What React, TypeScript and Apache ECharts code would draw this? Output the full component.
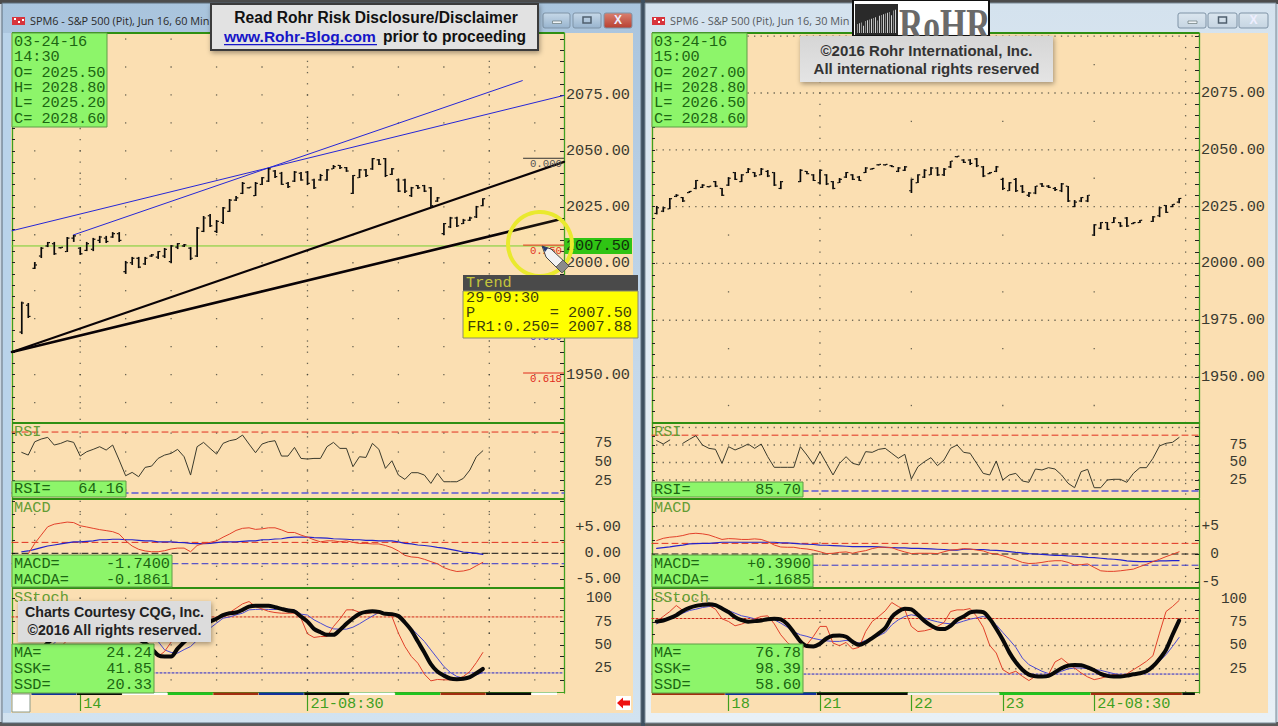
import React, { useEffect, useRef } from "react";
import * as echarts from "echarts";

// ---------- left window (60 min), bars start at slot 1 ----------
const leftHigh = [1982.6,1982,2000.3,2007,2009.3,2009.3,2007,2011.5,2012.4,2007,2009.3,2011.1,2012,2012,2013.7,2013.7,2000.8,2002.6,2002.6,2002.6,2003.9,2005.2,2006.6,2007.9,2008.8,2008.4,2007,2016,2020.9,2021.8,2019.1,2024.9,2028.5,2029.8,2036.1,2033.9,2036.1,2038.3,2042.4,2041.5,2040.6,2036.1,2041,2040.6,2041,2037.5,2039.7,2041.9,2043.7,2043.7,2042.8,2039.2,2041.9,2041.9,2046.8,2046.4,2046.8,2042.4,2037.5,2037.5,2033.9,2034.8,2034.8,2033.9,2029.4,2017.8,2020.5,2020.5,2019.6,2020.5,2025.4,2028.8];
const leftLow = [1968.1,1975.3,1997.2,2002.1,2007,2003.5,2006.6,2004.8,2009.3,2003.5,2005.2,2005.2,2008.8,2008.8,2011.1,2009.3,1995,1999,1997.6,1999,2002.6,2001.7,2002.1,1999.9,2006.1,2007,2001.2,2002.6,2013.7,2016,2013.3,2017.3,2022.7,2027.6,2030.7,2033.4,2029.8,2034.8,2036.1,2037.9,2034.8,2033.4,2036.1,2036.6,2034.8,2033,2036.6,2036.6,2041.9,2041.9,2040.6,2030.7,2037.9,2038.3,2041.5,2043.7,2038.3,2039.2,2031.6,2031.2,2029.4,2033,2031.6,2024.9,2027.2,2012.4,2015.5,2016,2017.3,2018.7,2020,2025.2];
const leftOpen = [1969,1981,1997.5,2003,2007.5,2008.5,2006.7,2005,2011,2006.5,2005.5,2006,2010,2011,2011.5,2013,1996,2000,2002,1999.5,2003,2002.5,2003,2000.5,2007,2007.5,2006.5,2003,2014,2021,2014,2018,2023,2028,2031,2033.5,2030,2035,2036.5,2041,2040,2035.5,2036.5,2040,2040.5,2037,2037,2037,2042,2043.5,2042.5,2031,2038,2041.5,2042,2046,2046.5,2039.5,2037,2037,2030,2034.5,2034.5,2033.5,2027.5,2013,2016,2020,2017.5,2019,2020.5,2025.5];
const leftClose = [1982,1976,1999,2006.5,2009,2004,2006.9,2011,2012,2004,2008.5,2010.5,2011.5,2009.5,2013,2010,2000,2002,1998,2002,2003.5,2005,2006,2007.5,2008.5,2008,2002,2015.5,2020,2016.5,2018.5,2024.5,2028,2029,2035.5,2033.8,2035.5,2038,2042,2038.5,2035,2034,2040.5,2037,2035.5,2033.5,2039,2041.5,2043,2042.5,2041,2039,2041.5,2039,2046.5,2044,2039,2042,2032,2032,2033.5,2033.5,2032,2025.5,2029,2017.5,2020,2016.5,2019,2020,2025,2028.6];
const leftRSI = [62,58.5,76,79.6,81.8,71.7,73.9,77.4,75.2,57.2,62.9,66,69.5,65.1,71.7,52,31.3,35.7,30,42.3,44,54.1,58.5,60.7,66,56.3,32.2,69.5,75.2,67.3,59.8,73.9,77.4,79.1,84.8,73,61.6,73,76,77.4,57.2,57.2,68.6,54.1,53.3,54.1,54.1,69.5,75.2,67.3,67.3,43.2,56.3,55.4,73.9,66,41,51,32.2,26.5,35.3,35.3,32.2,21.2,34.4,23.4,23.4,23.4,27.8,38.8,56.3,64.16];
const leftMACD = [null,-0.1,1.9,3.5,5.1,5.6,5.8,6,5.9,5.3,5.06,4.8,4.55,4.36,4.16,3.7,2.4,1.4,0.77,0.45,0.3,0.3,0.5,0.83,1,1,0.3,1.5,1.9,2.1,2.4,3.1,3.7,4.4,4.8,4.9,4.6,4.7,4.9,4.9,4.5,4,4,3.5,3.1,2.6,2.2,2.4,2.4,2.2,2.4,2.1,1.9,1.9,1.8,1.8,1.5,1.1,0.45,-0.4,-0.7,-0.8,-1.15,-1.6,-2,-2.76,-3.2,-3.5,-3.4,-3.1,-2.4,-1.74];
const leftMACDA = [0.3,0.45,0.77,1.1,1.4,1.6,1.8,2,2.2,2.2,2.3,2.4,2.6,2.6,2.7,2.7,2.6,2.6,2.5,2.4,2.4,2.2,2.2,2.2,2.1,2.05,1.9,1.85,1.85,1.9,2.05,2.2,2.2,2.2,2.3,2.4,2.4,2.6,2.6,2.75,2.8,3,3.1,3.1,3.1,3,2.95,2.9,2.8,2.75,2.7,2.6,2.6,2.5,2.5,2.4,2.4,2.4,2.2,1.9,1.8,1.6,1.5,1.35,1.15,1,0.77,0.5,0.25,0.13,0,-0.19];
const leftMA = [null,45,44,46,52,58,63,68,72,74,76,75,72,70,68,65,60,58,56,52,46,39,37.6,37.6,46,53,60,66,71,75,78,82,84,84.7,87.5,91,92,92,92,90.4,88.6,86.9,85.8,80.5,75,67.2,63.6,60.8,60.8,66.1,72.6,78.6,83.3,85.4,86.1,85.4,83.3,83,81,74,65.6,53.6,41.9,29.4,21.5,17.2,14,13.3,13.7,15.5,19.6,24.24];
const leftSSK = [null,35,36,38,42,45,48,55,62,72,80,84,85,82,80,76,68,60,55,50,42,37.6,43,53,62,65,68,70,72,76,76.9,82,84.7,89.3,94,96.5,91,88.6,86,84.7,84,84,84,78.6,61.9,58,59,59,69.7,77.9,87.6,87.6,85,83.3,84.7,84,83,80.5,62.6,48.3,37.6,30.4,18.7,11.5,13,12.6,12.6,13,16.2,21.5,31,41.85];
const leftSSD = [null,null,null,null,45,52,58,62,66,69,72,74,76,77,77,75,72,68,64,60,57,53.7,44.7,42,41.2,45,48.3,55,62,68,73.3,78.6,80,82.2,84,87.6,88,88.3,88,88,89.3,88.3,87.6,83,82,76.9,73.3,69.7,67.2,66.9,66.9,69,72.6,76.9,81,84.7,84,82.2,81,75.1,68,60.8,53.7,44.7,35.8,26.9,20.5,16.2,14.4,15.5,18,20.33];
const leftStart = 1;

// trend lines of the left window: [slot, price]
const blueTrendA = [[-0.5, 2014.3], [84.5, 2074.8]];
const blueTrendB = [[8.94, 2012.4], [78.08, 2081.4]];
const blackTrendA = [[-0.5, 1960.1], [84.5, 2045.1]];
const blackTrendB = [[-0.5, 1960.1], [83.9, 2019.4]];
const priceCursor = [[-0.5, 2007.5], [84.5, 2007.5]];
const fibLabels = ["0.000", "0.250", "0.500", "0.618"];
const fibValues = [2046.7, 2007.88, 1969.06, 1950.7];
const fibColors = ["#333333", "#e02a1a", "#3a3ad0", "#e02a1a"];

// ---------- right window (30 min), bars start at slot 0 ----------
const rightHigh = [2025.3,2024.8,2028.8,2030.5,2029.2,2031.9,2036.7,2034.9,2034.1,2036.3,2033.2,2038,2040.2,2039.3,2042,2040.2,2042,2041.1,2040.2,2036.3,null,null,2041.5,2040.7,2039.3,2041.5,2039.3,2036.3,2037.6,2040.2,2039.3,2038.5,2042.4,2042,2043.7,2043.7,2043.3,2042.4,2042.9,2037.1,2039.3,2041.5,2042.4,2042.4,2042,2045.1,2047.3,2045.9,2045.9,2046.4,2042.9,2040.2,2042.9,2037.6,2035.8,2037.6,2034.5,2031.4,2034.1,2035.4,2034.5,2033.6,2035.4,2034.1,2027.9,2029.2,2030.1,2017.3,2018.2,2018.2,2020.4,2018.2,2020.4,2018.2,2019.1,null,2020.9,2024.8,2025.7,2026.1,2028.8];
const rightLow = [2021.6,2022.6,2023.9,2029.2,2027,2031,2032.7,2033.2,2033.6,2033.6,2029.7,2034.1,2036.7,2035.8,2039.8,2038,2038.9,2038,2034.1,2032.7,null,null,2035.8,2039.3,2036.3,2034.9,2034.5,2032.7,2035.4,2037.6,2036.7,2036.3,2039.8,2041.3,2043.3,2043.3,2042.4,2040.2,2040.7,2031,2035.4,2037.6,2038.9,2038.5,2038.5,2042,2046.8,2044.2,2043.3,2042.4,2038,2039.3,2040.2,2032.3,2031.9,2031.4,2031,2029.2,2030.5,2033.6,2033.2,2031.9,2031.4,2027,2024.8,2027,2027,2012.1,2015.1,2014.7,2017.8,2016,2016,2017.3,2017.8,null,2018.2,2020.4,2022.2,2024.8,2026.5];
const rightOpen = [2022,2023,2024,2029.5,2029,2031.2,2033,2033.5,2033.8,2036,2033,2034.5,2040,2036,2040,2040,2039,2040.5,2040,2033,null,null,2036,2040.5,2039,2035.5,2039,2036,2035.5,2038,2039,2038,2040,2041.5,2043.4,2043.4,2043,2040.5,2041,2032,2035.5,2038,2039,2042,2039,2042.5,2047,2045.5,2045.5,2046,2042.5,2039.5,2040.5,2037,2032,2037,2034,2030,2031,2035,2034,2033,2032,2034,2025,2027.5,2027.5,2012.5,2015.5,2018,2018,2018,2020,2017.5,2018,null,2018.5,2021,2025.5,2025,2027];
const rightClose = [2024.5,2024.5,2028.5,2030,2027.5,2031.7,2036.5,2034.5,2034,2034,2030,2037.5,2037,2039,2041.5,2038.5,2041.5,2038.5,2034.5,2036,null,null,2041,2039.5,2036.5,2041,2035,2033,2037,2040,2037,2036.5,2042,2041.8,2043.6,2043.6,2042.6,2042,2042.5,2037,2039,2041,2042,2039,2041.5,2045,2047.2,2044.5,2044,2043,2038.5,2040,2042.5,2033,2035.5,2032,2031.5,2031,2034,2034,2033.5,2032.5,2035,2027.5,2027,2029,2030,2017,2018,2015,2020,2016.5,2016.5,2018,2019,null,2020.5,2024.5,2022.5,2026,2028.6];
const rightRSI = [81.2,76.4,82.1,null,77.4,83,88.3,75,70.2,68.8,48.8,72.6,67.9,71.7,76.4,70.2,76.4,58.3,43.1,43.1,43.1,43.1,72.6,60.7,47.4,65.5,48.8,32.2,48.8,58.3,48.8,46.4,65.5,64.5,68.8,70.2,63.1,56,61.7,26.4,44,51.2,56.9,45.5,53.6,70.2,75,64.5,63.1,48.8,34.5,32.2,52.2,25,32.2,34.5,23.6,21.7,40.7,39.3,42.6,40.7,32.2,20.3,14,36.9,40.2,14,14,25,26,26,21.7,34.5,42.6,42.6,56,73.6,77.4,78.8,85.7];
const rightMACD = [2.4,2.8,3,3.1,3.3,3.6,3.7,3.6,3.4,3,2.6,2.75,2.7,2.6,2.6,2.7,2.6,2.2,1.6,1.25,1.2,1.2,1,0.9,0.7,0.4,0.07,0.13,0.3,0.37,0.13,0.4,0.6,0.96,1.2,1.2,1.14,0.7,0.37,0.07,0.13,0.13,0.13,0.07,0.4,0.7,0.8,0.96,0.9,0.7,0.55,0.13,0,-0.3,-0.7,-1.06,-1.5,-1.7,-1.65,-1.5,-1.3,-1.2,-1.2,-1.5,-1.95,-1.9,-1.77,-2.4,-3,-3.1,-3.1,-3,-2.85,-2.7,-2.25,-1.84,-1.36,-0.94,-0.47,-0.05,0.39];
const rightMACDA = [1,1.15,1.26,1.44,1.6,1.8,1.85,1.9,1.9,2,2.1,2.1,2.1,2.1,2.1,2.1,2.1,2.1,2.1,2,2,1.9,1.8,1.74,1.7,1.6,1.56,1.5,1.44,1.38,1.32,1.32,1.32,1.32,1.26,1.2,1.14,1.1,1.1,1,1,0.96,0.9,0.85,0.8,0.7,0.7,0.85,0.85,0.8,0.8,0.7,0.66,0.55,0.43,0.3,0.2,0.07,0,-0.05,-0.17,-0.23,-0.23,-0.35,-0.4,-0.47,-0.6,-0.65,-0.76,-0.88,-0.94,-1.06,-1.24,-1.3,-1.36,-1.36,-1.3,-1.24,-1.24,-1.18,-1.1685];
const rightMA = [75.8,76.9,79.4,82.6,87.2,90.5,92.6,93.7,94.4,93.3,89.7,85.8,80.5,77.3,75.5,76.2,76.9,78.3,78.7,78,73,64,54.4,49.4,49,51.9,57.6,60.5,60.8,59.4,54,50.8,53.3,58,63,68.7,80.5,86.5,89.4,88.7,83,76.5,71.5,68,67.6,71.2,77.6,81.2,85.5,86.5,85.8,78.7,68,56.2,42.6,31.9,24,18.7,16.9,16.6,17.3,21.2,25.5,28.3,29,28.7,26.5,23.3,19.4,17.3,16.6,16.6,17.6,19,20.1,22.3,27.6,35.5,45.5,61.5,76.78];
const rightSSK = [75.8,81.2,86.5,93,87.6,90,92.6,93,93,89,78.7,75.8,71.2,73,75.8,78.7,81.2,81.9,73.3,61.5,53.3,47.3,45.5,50.8,59.8,70.5,70.5,52.6,49.8,53.3,46.2,48,65,75.8,81.2,87.2,96.2,91.9,88.3,70.5,65,65.8,67.6,70.5,74.7,86.5,88.3,88.3,89.7,81.2,69.7,50.1,41.9,24,19.8,22.3,16.9,12.3,16.9,16.9,18.7,32.3,36.2,30.5,25.8,20.5,16.2,13.3,14.8,16.9,18.7,17.6,19.4,24,28.3,33,39,63.3,86.5,91.9,98.39];
const rightSSD = [73.3,77.6,79.7,81.9,84.7,87.6,89,90.8,91.9,92.6,90,87.6,84.7,81.9,80.5,78.7,77.6,77.6,77.6,74,69.7,64.7,61.5,59.8,57.6,56.2,55,54.4,54.4,55.5,54.4,52.6,55.5,58,60.5,64,72.2,77.6,81.2,83,81.5,79.4,77.2,75.5,74,73.3,74,76.2,78.3,79.7,81.2,78.7,72.2,64,56.2,48,36.5,29.4,25.8,22.3,19.8,19.8,22.3,24.8,25.8,25.8,25.1,24,23.3,21.5,19.8,18,17.6,18.3,19.4,21.5,25.8,33,40.1,49,58.6];

// axis ticks and reference levels
const leftPriceLabels = [2075, 2050, 2025, 2000, 1950];
const rightPriceLabels = [2075, 2050, 2025, 2000, 1975, 1950];
const oscLabels = [75, 50, 25];
const stochLabels = [100, 75, 50, 25];
const macdLabels = [5, 0, -5];
const leftDayTicks = [10, 45];
const leftDayNames = ["14", "21-08:30"];
const rightDayTicks = [11, 25, 39, 53, 67];
const rightDayNames = ["18", "21", "22", "23", "24-08:30"];
const leftStripEdges = [2.5,9.5,16.5,23.5,30.5,37.5,44.5,51.5,58.5,65.5,72.5,79.5,83.5];
const leftStripColors = ["#12309c","#0a0a0a","#ffffff","#1fc41f","#a22c10","#12309c","#0a0a0a","#ffffff","#1fc41f","#a22c10","#0a0a0a","#ffffff"];
const rightStripEdges = [-0.72,10.5,24.5,38.5,52.5,66.5,80.5,82.5];
const rightStripColors = ["#a22c10","#12309c","#0a0a0a","#f4f4f4","#1fc41f","#a22c10","#0a0a0a"];

const MONO = '"Liberation Mono"';
const SANS = '"Liberation Sans"';
const GREEN = "#3f9f1f";
const range = (a: number, b: number, s: number) => {
  const r: number[] = [];
  for (let v = a; v <= b + 1e-6; v += s) r.push(v);
  return r;
};
const cross = (xs: number[], ys: number[]) => xs.flatMap((x) => ys.map((y) => [x, y]));
const pts = (vals: (number | null)[], start = 0) => vals.map((v, i) => [i + start, v]);

function buildOption() {
  const grid: any[] = [], xAxis: any[] = [], yAxis: any[] = [], series: any[] = [];

  function panel(cfg: any) {
    const g = grid.length;
    grid.push({ left: cfg.x, top: cfg.top, width: cfg.w, height: cfg.bottom - cfg.top, show: false });
    xAxis.push({
      gridIndex: g, type: "value", min: cfg.xMin, max: cfg.xMax, position: "bottom",
      splitLine: { show: false }, axisLine: { show: false, onZero: false },
      axisTick: cfg.days ? { show: true, customValues: cfg.days, length: 18, lineStyle: { color: GREEN, width: 1.2 } } : { show: false },
      axisLabel: cfg.days ? {
        show: true, customValues: cfg.days, margin: 3, align: "left", padding: [0, 0, 0, 3],
        fontFamily: MONO, fontSize: 15.25, color: GREEN,
        formatter: (v: number) => cfg.dayNames[cfg.days.indexOf(v)] ?? "",
      } : { show: false },
    });
    const yIdx = yAxis.length;
    yAxis.push({
      gridIndex: g, type: "value", min: cfg.yMin, max: cfg.yMax, position: "right",
      splitLine: { show: false },
      axisLine: { show: true, onZero: false, lineStyle: { color: GREEN, width: 1.3 } },
      axisTick: { show: true, inside: true, length: 4, customValues: cfg.ticks, lineStyle: { color: "#222", width: 1 } },
      axisLabel: {
        show: true, customValues: cfg.labels, align: "right", margin: cfg.labelX - cfg.x - cfg.w,
        fontFamily: MONO, fontSize: cfg.labelSize ?? 15.25, color: "#3a3a30",
        formatter: cfg.fmt,
      },
    });
    yAxis.push({
      gridIndex: g, type: "value", min: cfg.yMin, max: cfg.yMax, position: "left",
      splitLine: { show: false },
      axisLine: { show: true, onZero: false, lineStyle: { color: GREEN, width: 1.3 } },
      axisTick: { show: true, inside: true, length: 3, customValues: cfg.ticks, lineStyle: { color: "#222", width: 1 } },
      axisLabel: { show: false },
    });
    const base = { xAxisIndex: g, yAxisIndex: yIdx, silent: true, animation: false };
    const dots = (data: number[][], color = "#45453a", size = 1.3) =>
      series.push({ ...base, type: "scatter", data, symbol: "rect", symbolSize: size, itemStyle: { color }, z: 1 });
    const line = (data: any[], color: string, width = 1, extra: any = {}) =>
      series.push({
        ...base, type: "line", data, showSymbol: false, symbol: "none", connectNulls: false,
        lineStyle: { color, width, cap: "round", join: "round", ...(extra.lineStyle ?? {}) },
        z: extra.z ?? 3, smooth: extra.smooth ?? false,
      });
    const level = (v: number, color: string, width: number, type: any) =>
      line([[cfg.xMin, v], [cfg.xMax, v]], color, width, { lineStyle: { type }, z: 2 });
    (cfg.build as any)({ base, dots, line, level });
  }

  function ohlc(base: any, h: any[], l: any[], o: any[], c: any[], start: number) {
    const data = h.map((v, i) => [i + start, o[i], c[i], l[i], v]).filter((d) => d[4] != null);
    series.push({
      ...base, type: "custom", data, z: 4, encode: { x: 0, y: [1, 2, 3, 4] },
      renderItem: (_: any, api: any) => {
        const x = api.value(0);
        const [px, yO] = api.coord([x, api.value(1)]);
        const yC = api.coord([x, api.value(2)])[1];
        const yL = api.coord([x, api.value(3)])[1];
        const yH = api.coord([x, api.value(4)])[1];
        const s = { fill: "#0a0a0a" };
        return {
          type: "group",
          children: [
            { type: "rect", shape: { x: px - 0.8, y: yH, width: 1.7, height: Math.max(yL - yH, 1.5) }, style: s },
            { type: "rect", shape: { x: px - 2.3, y: yO - 0.6, width: 1.7, height: 1.2 }, style: s },
            { type: "rect", shape: { x: px + 0.6, y: yC - 0.6, width: 1.7, height: 1.2 }, style: s },
          ],
        };
      },
    });
  }

  function strip(base: any, edges: number[], colors: string[], yBase: number) {
    series.push({
      ...base, type: "custom", z: 6, clip: false,
      data: colors.map((_, i) => [edges[i], edges[i + 1], yBase, i]),
      encode: { x: [0, 1], y: 2 },
      renderItem: (_: any, api: any) => {
        const a = api.coord([api.value(0), api.value(2)]);
        const b = api.coord([api.value(1), api.value(2)]);
        return { type: "rect", shape: { x: a[0], y: a[1] - 0.5, width: b[0] - a[0] - 0.5, height: 2.5 }, style: { fill: colors[api.value(3)] } };
      },
    });
  }

  const L = { x: 12, w: 552, xMin: -0.5, xMax: 84.5 };
  const R = { x: 652, w: 547, xMin: -0.72, xMax: 83.05 };
  const lSparse = range(3, 80, 7);
  const lDense = [10, 45, 73];
  const rSparse = [11, 39, 53, 67];
  const rDense = [25, 81];
  const rSlots = range(0, 83, 1);

  // LEFT price
  panel({
    ...L, top: 33, bottom: 422, yMin: 1928.8, yMax: 2102.7, ticks: range(1930, 2100, 5), labels: leftPriceLabels, labelX: 630,
    fmt: (v: number) => v.toFixed(2),
    build: ({ base, dots, line }: any) => {
      dots(cross(lSparse, range(1937.5, 2100, 12.5)));
      dots(cross(lDense, range(1930, 2100, 5)));
      line(priceCursor, "#72d02c", 1);
      line(blueTrendA, "#2626d6", 1);
      line(blueTrendB, "#2626d6", 1);
      line(blackTrendA, "#0a0306", 2.2);
      line(blackTrendB, "#0a0306", 2.6);
      ohlc(base, leftHigh, leftLow, leftOpen, leftClose, leftStart);
      series.push({
        ...base, type: "custom", z: 5, clip: false,
        data: fibValues.map((v, i) => [78.2, 84.5, v, i]),
        encode: { x: [0, 1], y: 2 },
        renderItem: (_: any, api: any) => {
          const a = api.coord([api.value(0), api.value(2)]);
          const b = api.coord([api.value(1), api.value(2)]);
          const i = api.value(3);
          return {
            type: "group",
            children: [
              { type: "line", shape: { x1: a[0], y1: a[1], x2: b[0], y2: b[1] }, style: { stroke: fibColors[i], lineWidth: 1 } },
              { type: "text", style: { text: fibLabels[i], x: b[0] - 2, y: a[1] + 5.5, textAlign: "right", textVerticalAlign: "middle", fill: i === 0 ? "#555" : fibColors[i], fontFamily: MONO, fontSize: 10.7 } },
            ],
          };
        },
      });
    },
  });
  // LEFT RSI
  panel({
    ...L, top: 423, bottom: 498, yMin: 2, yMax: 100.7, ticks: range(12.5, 100, 12.5), labels: oscLabels, labelX: 612, labelSize: 14.5,
    fmt: (v: number) => String(v),
    build: ({ dots, line, level }: any) => {
      dots(cross(lSparse, [87.5, 62.5, 37.5, 12.5]));
      dots(cross(lDense, range(10, 95, 14.5)));
      level(88.8, "#e0301e", 1, [6, 4]);
      level(8.7, "#5a5ad8", 1.5, [6, 4]);
      line(pts(leftRSI, leftStart), "#3a3a2c", 1);
    },
  });
  // LEFT MACD
  panel({
    ...L, top: 498, bottom: 588, yMin: -6.67, yMax: 10.63, ticks: range(-5, 10, 2.5), labels: macdLabels, labelX: 621,
    fmt: (v: number) => (v > 0 ? "+" : "") + v.toFixed(2),
    build: ({ dots, line, level }: any) => {
      dots(cross(lSparse, [7.5, 5, 2.5, -2.5, -5]));
      dots(cross(lDense, range(-6, 10, 2)));
      level(2.1, "#e0301e", 1, [6, 4]);
      level(0, "#111", 1, [6, 4]);
      level(-2, "#3434cc", 1, [6, 4]);
      line(pts(leftMACDA, leftStart), "#2222cc", 1.2);
      line(pts(leftMACD, leftStart), "#e2402a", 1);
    },
  });
  // LEFT SStoch
  panel({
    ...L, top: 588, bottom: 693, yMin: -1.5, yMax: 111, ticks: range(12.5, 100, 12.5), labels: stochLabels, labelX: 612, labelSize: 14.5,
    days: leftDayTicks, dayNames: leftDayNames,
    fmt: (v: number) => String(v),
    build: ({ base, dots, line, level }: any) => {
      dots(cross(lSparse, [100, 87.5, 75, 62.5, 50, 37.5, 25, 12.5]));
      dots(cross(lDense, range(0, 100, 12.5)));
      level(80, "#d02818", 1, [2, 2]);
      level(20, "#2222cc", 1, [2, 2]);
      line(pts(leftSSD, leftStart), "#4a4ad4", 1);
      line(pts(leftSSK, leftStart), "#e0402a", 1);
      line(pts(leftMA, leftStart), "#080808", 4, { smooth: 0.3, z: 4 });
      strip(base, leftStripEdges, leftStripColors, -1.5);
    },
  });

  // RIGHT price
  panel({
    ...R, top: 33, bottom: 423, yMin: 1929.8, yMax: 2101.4, ticks: range(1930, 2100, 5), labels: rightPriceLabels, labelX: 1265,
    fmt: (v: number) => v.toFixed(2),
    build: ({ base, dots }: any) => {
      dots(cross(rSlots, [2100, 2075, 2050, 2025, 2000, 1975, 1950]));
      dots(cross(rSparse, [2087.5, 2062.5, 2037.5, 2012.5, 1987.5, 1962.5, 1937.5]));
      dots(cross(rDense, range(1930, 2100, 5)));
      ohlc(base, rightHigh, rightLow, rightOpen, rightClose, 0);
    },
  });
  // RIGHT RSI
  panel({
    ...R, top: 423, bottom: 498, yMin: -0.7, yMax: 106.4, ticks: range(12.5, 100, 12.5), labels: oscLabels, labelX: 1247, labelSize: 14.5,
    fmt: (v: number) => String(v),
    build: ({ dots, line, level }: any) => {
      dots(cross(rSlots, [100, 75, 50, 25]));
      dots(cross(rDense, range(5, 100, 15)));
      level(89, "#e0301e", 1, [6, 4]);
      level(9.3, "#5a5ad8", 1.5, [6, 4]);
      line(pts(rightRSI), "#3a3a2c", 1);
    },
  });
  // RIGHT MACD
  panel({
    ...R, top: 499, bottom: 588, yMin: -6.07, yMax: 9.82, ticks: range(-5, 7.5, 2.5), labels: macdLabels, labelX: 1219, labelSize: 14.5,
    fmt: (v: number) => (v > 0 ? "+" : "") + String(v),
    build: ({ dots, line, level }: any) => {
      dots(cross(rSlots, [5, -5]));
      dots(cross(rDense, range(-6, 9, 2)));
      level(1.9, "#e0301e", 1, [6, 4]);
      level(0, "#111", 1, [6, 4]);
      level(-2, "#3434cc", 1, [6, 4]);
      line(pts(rightMACDA), "#2222cc", 1.2);
      line(pts(rightMACD), "#e2402a", 1);
    },
  });
  // RIGHT SStoch
  panel({
    ...R, top: 588, bottom: 693, yMin: -1.07, yMax: 111.8, ticks: range(12.5, 100, 12.5), labels: stochLabels, labelX: 1247, labelSize: 14.5,
    days: rightDayTicks, dayNames: rightDayNames,
    fmt: (v: number) => String(v),
    build: ({ base, dots, line, level }: any) => {
      dots(cross(rSlots, [100, 50, 25]));
      dots(cross(rDense, range(0, 100, 12.5)));
      level(79, "#d02818", 1, [2, 2]);
      level(19.3, "#2222cc", 1, [2, 2]);
      line(pts(rightSSD), "#4a4ad4", 1);
      line(pts(rightSSK), "#e0402a", 1);
      line(pts(rightMA), "#080808", 4, { smooth: 0.3, z: 4 });
      strip(base, rightStripEdges, rightStripColors, -1.07);
    },
  });

  return { animation: false, backgroundColor: "#c9d6e2", grid, xAxis, yAxis, series, graphic: { elements: buildGraphics() } };
}

function buildGraphics() {
  const el: any[] = [];
  const LG = (stops: string[]) => new echarts.graphic.LinearGradient(0, 0, 0, 1, stops.map((c, i) => ({ offset: i / (stops.length - 1), color: c })));
  const rect = (x: number, y: number, w: number, h: number, fill: any, z: number, extra: any = {}) =>
    el.push({ type: "rect", shape: { x, y, width: w, height: h, ...(extra.shape ?? {}) }, style: { fill, ...(extra.style ?? {}) }, z, silent: true });
  const text = (s: string, x: number, y: number, fill: string, opt: any = {}) =>
    el.push({
      type: "text", x, y, z: opt.z ?? 100, silent: true, scaleX: opt.scaleX ?? 1,
      style: {
        text: s, fill, fontFamily: opt.font ?? MONO, fontSize: opt.size ?? 15.25, fontWeight: opt.weight ?? "normal",
        textAlign: opt.align ?? "left", textVerticalAlign: "middle", align: opt.align ?? "left", verticalAlign: "middle",
      },
    });

  // desktop / window frames
  rect(0, 0, 1278, 4, "#4c4c4c", -10);
  rect(0, 722, 1278, 4, "#5a5a5a", -10);
  rect(641, 0, 4, 726, "#3e5060", -10);
  rect(2, 3, 639, 720, LG(["#a9c4dd", "#c4d8ea", "#d2e3f0"]), -9, { style: { stroke: "#5c6c7a", lineWidth: 1 } });
  rect(645, 3, 631, 720, LG(["#d4e2ee", "#e2ecf4", "#e8f0f6"]), -9, { style: { stroke: "#7b8a96", lineWidth: 1 } });
  rect(3, 33, 8, 680, "#b9d3ea", -8);
  rect(11, 33, 622, 680, "#fbdfb2", -8);
  rect(651, 33, 617, 680, "#fbdfb2", -8);

  // separators and bottom edges
  for (const [x, w] of [[12, 552], [652, 547]]) {
    for (const y of [33, 422, 498, 587]) rect(x, y - (y === 33 ? 1 : 0), w, 2, "#2f8f12", 8);
    rect(x, 692, w, 1, GREEN, 1);
  }

  // window titles and buttons
  const titleIcon = (x: number) => {
    rect(x, 17, 13, 8, "#d8343c", 0);
    for (const [a, b] of [[2, 1], [6, 4], [10, 2]]) rect(x + a, 17 + b, 2, 2, "#fff", 1);
  };
  titleIcon(12);
  titleIcon(652);
  text("SPM6 - S&P 500 (Pit), Jun 16, 60 Min", 30, 20, "#2a2a2a", { font: '"Open Sans"', size: 10.9, z: 1 });
  text("SPM6 - S&P 500 (Pit), Jun 16, 30 Min", 670, 20, "#555a60", { font: '"Open Sans"', size: 10.9, z: 1 });
  const btn = (x: number, w: number, fill: any, kind: string) => {
    rect(x, 13, w, 15, fill, 1, { shape: { r: 2 }, style: { stroke: "#7e93a6", lineWidth: 1 } });
    const cx = x + w / 2;
    if (kind === "min") rect(cx - 4, 21, 9, 2.5, "#eef3f7", 2, { style: { stroke: "#566", lineWidth: 0.6 } });
    if (kind === "max") rect(cx - 4, 17, 8, 6, "none", 2, { style: { stroke: "#4f5f6e", lineWidth: 1.5 } });
    if (kind === "x") text("X", cx, 20, "#eef", { font: SANS, size: 12, weight: "bold", align: "center", z: 2 });
  };
  const blueBtn = LG(["#c6d8e8", "#98b4ce"]);
  const paleBtn = LG(["#dbe6ef", "#c6d5e2"]);
  btn(543, 27, blueBtn, "min");
  btn(573, 28, blueBtn, "max");
  btn(604, 28, LG(["#d98070", "#b84030"]), "x");
  btn(1178, 28, paleBtn, "min");
  btn(1208, 29, paleBtn, "max");
  btn(1239, 29, paleBtn, "x");

  // green read-outs
  const box = (x: number, y: number, w: number, h: number) => rect(x, y, w, h, "#8df56a", 60, { style: { stroke: "#5f9c46", lineWidth: 1 } });
  const INK = "#1c6612";
  const ohlcBox = (x: number, rows: string[]) => {
    box(x, 33, 95, 94);
    rows.forEach((r, i) => text(r, x + 2, 41.7 + i * 15.4, INK, { z: 61 }));
  };
  ohlcBox(12, ["03-24-16", "14:30", "O= 2025.50", "H= 2028.80", "L= 2025.20", "C= 2028.60"]);
  ohlcBox(652, ["03-24-16", "15:00", "O= 2027.00", "H= 2028.80", "L= 2026.50", "C= 2028.60"]);
  const read = (x: number, y: number, w: number, h: number, rows: string[][], firstY: number) => {
    box(x, y, w, h);
    rows.forEach((r, i) => {
      text(r[0], x + 2, firstY + i * 16, INK, { z: 61 });
      text(r[1], x + w - 2, firstY + i * 16, INK, { z: 61, align: "right" });
    });
  };
  read(12, 481, 114, 16, [["RSI=", "64.16"]], 489);
  read(12, 555, 160, 32, [["MACD=", "-1.7400"], ["MACDA=", "-0.1861"]], 564);
  read(12, 644, 142, 49, [["MA=", "24.24"], ["SSK=", "41.85"], ["SSD=", "20.33"]], 653);
  read(652, 482, 151, 15, [["RSI=", "85.70"]], 490);
  read(652, 555, 161, 32, [["MACD=", "+0.3900"], ["MACDA=", "-1.1685"]], 564);
  read(652, 644, 151, 49, [["MA=", "76.78"], ["SSK=", "98.39"], ["SSD=", "58.60"]], 653);

  // panel names
  const OL = "#649c34";
  for (const x of [14, 654]) {
    text("RSI", x, 432, OL, { z: 50 });
    text("MACD", x, 507.5, OL, { z: 50 });
    text("SStoch", x, 597.5, OL, { z: 50 });
  }

  // left-bottom corner squares + arrow
  rect(12, 694, 18, 18, "#ffffff", 60, { style: { stroke: "#8a9a8a", lineWidth: 1 } });
  rect(616, 696, 15, 14, "#ffffff", 60);
  el.push({ type: "polygon", shape: { points: [[617, 703], [623, 697.5], [623, 700.5], [630, 700.5], [630, 705.5], [623, 705.5], [623, 708.5]] }, style: { fill: "#ee1010" }, z: 61, silent: true });

  // price tag
  rect(565, 238, 67, 16, "#2fc414", 70);
  text("2007.50", 630, 246, "#10300a", { align: "right", z: 71 });

  // highlight and cursor
  el.push({ type: "circle", shape: { cx: 540, cy: 244, r: 32 }, style: { fill: "rgba(255,255,120,0.06)", stroke: "#e9e92e", lineWidth: 4 }, z: 80, silent: true });
  el.push({ type: "polygon", shape: { points: [[542, 246], [551, 249], [568, 265], [561, 272], [546, 257]] }, style: { fill: "#f2f2f2", stroke: "#444", lineWidth: 1 }, z: 81, silent: true });
  el.push({ type: "polygon", shape: { points: [[563, 260], [569, 266], [562, 273], [556, 267]] }, style: { fill: "#8a8a8a", stroke: "#444", lineWidth: 0.7 }, z: 82, silent: true });
  el.push({ type: "polygon", shape: { points: [[542, 246], [548, 248], [545, 252]] }, style: { fill: "#223a70" }, z: 82, silent: true });

  // trend tooltip
  rect(463, 275, 175, 16, "#4a4a4a", 90);
  text("Trend", 466, 283, "#c4c43c", { z: 91 });
  rect(463, 291, 175, 47, "#ffff00", 90, { style: { stroke: "#8a8a70", lineWidth: 1 } });
  const TT = "#40400a";
  text("29-09:30", 466, 298, TT, { z: 91 });
  text("P", 466, 312.7, TT, { z: 91 });
  text("= 2007.50", 632, 312.7, TT, { z: 91, align: "right" });
  text("FR1:0.250= 2007.88", 632, 327.3, TT, { z: 91, align: "right" });

  // Rohr disclaimer box
  const shadow = { shadowBlur: 5, shadowColor: "rgba(0,0,0,0.35)", shadowOffsetY: 2, shadowOffsetX: 1 };
  rect(211, 4, 327, 46, "#e2e2e2", 100, { style: { stroke: "#3a3a3a", lineWidth: 2, ...shadow } });
  text("Read Rohr Risk Disclosure/Disclaimer", 376, 17, "#111", { font: SANS, size: 15.6, weight: "bold", align: "center", z: 101 });
  text("www.Rohr-Blog.com", 224, 36, "#1616c8", { font: SANS, size: 15.5, weight: "bold", z: 101 });
  rect(224, 44, 153, 1.2, "#1616c8", 101);
  text("prior to proceeding", 383, 36, "#111", { font: SANS, size: 15.6, weight: "bold", z: 101 });

  // logo
  rect(853, 0, 136, 36, "#ffffff", 95, { style: { stroke: "#111", lineWidth: 2 } });
  rect(855, 4, 43, 31, "#2a2a2a", 96);
  for (let i = 0; i < 20; i++) {
    const x = 857 + i * 2;
    const t = 24 - i * 0.75 + (i % 7 === 3 ? 4 : 0);
    rect(x, t, 1, 33 - t, i % 2 ? "#cfcfcf" : "#8c8c8c", 97);
  }
  text("RoHR", 899, 26, "#6a6a6a", { font: '"Liberation Serif"', size: 46, weight: "bold", z: 96, scaleX: 0.73 });

  // copyright boxes
  rect(800, 36, 253, 46, LG(["#d6d6d6", "#e4e4e4"]), 100, { style: shadow });
  text("©2016 Rohr International, Inc.", 926.5, 50.5, "#333", { font: SANS, size: 15, align: "center", z: 101, weight: "bold" });
  text("All international rights reserved", 926.5, 68.5, "#333", { font: SANS, size: 15, align: "center", z: 101, weight: "bold" });
  rect(18, 601, 193, 41, "#dcdcdc", 100, { style: shadow });
  text("Charts Courtesy CQG, Inc.", 114.5, 612, "#222", { font: SANS, size: 14.2, align: "center", z: 101, weight: "bold" });
  text("©2016 All rights reserved.", 114.5, 630, "#222", { font: SANS, size: 14.2, align: "center", z: 101, weight: "bold" });
  return el;
}

export default function App() {
  const ref = useRef<HTMLDivElement>(null);
  useEffect(() => {
    document.body.style.margin = "0";
    const chart = echarts.init(ref.current!, undefined, { renderer: "svg" });
    chart.setOption(buildOption() as any);
    return () => chart.dispose();
  }, []);
  return <div ref={ref} style={{ width: 1278, height: 726, overflow: "hidden" }} />;
}
